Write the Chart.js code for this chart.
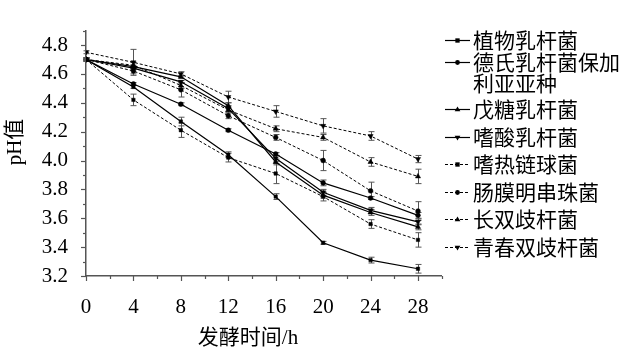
<!DOCTYPE html>
<html><head><meta charset="utf-8">
<script src="https://cdn.jsdelivr.net/npm/chart.js@4.4.1/dist/chart.umd.min.js"></script>
<style>html,body{margin:0;padding:0;background:#fff}#wrap{width:626px;height:355px;position:relative}</style>
</head><body><div id="wrap"><canvas id="c" width="626" height="355"></canvas></div>
<script>
// ---- data ----
const hours = [0, 4, 8, 12, 16, 20, 24, 28];
const xTickLabels = ['0', '4', '8', '12', '16', '20', '24', '28'];
const yTickLabels = ['3.2', '3.4', '3.6', '3.8', '4.0', '4.2', '4.4', '4.6', '4.8'];
const seriesNames = ['植物乳杆菌', '德氏乳杆菌保加利亚亚种', '戊糖乳杆菌', '嗜酸乳杆菌', '嗜热链球菌', '肠膜明串珠菌', '长双歧杆菌', '青春双歧杆菌'];
const legendLines = [['植物乳杆菌'], ['德氏乳杆菌保加', '利亚亚种'], ['戊糖乳杆菌'], ['嗜酸乳杆菌'], ['嗜热链球菌'], ['肠膜明串珠菌'], ['长双歧杆菌'], ['青春双歧杆菌']];
const plantarum      = [4.70, 4.51, 4.27, 4.04, 3.75, 3.43, 3.31, 3.25];
const plantarumErr   = [0.01, 0.01, 0.03, 0.02, 0.02, 0.01, 0.02, 0.03];
const bulgaricus     = [4.70, 4.53, 4.39, 4.21, 4.045, 3.845, 3.74, 3.62];
const bulgaricusErr  = [0.01, 0.01, 0.01, 0.01, 0.01, 0.02, 0.01, 0.02];
const pentosus       = [4.70, 4.65, 4.58, 4.38, 3.99, 3.76, 3.64, 3.54];
const pentosusErr    = [0.01, 0.01, 0.01, 0.02, 0.02, 0.02, 0.02, 0.02];
const acidophilus    = [4.70, 4.64, 4.545, 4.36, 4.015, 3.78, 3.655, 3.575];
const acidophilusErr = [0.01, 0.01, 0.01, 0.02, 0.02, 0.02, 0.02, 0.02];
const thermophilus   = [4.70, 4.42, 4.21, 4.02, 3.91, 3.75, 3.56, 3.45];
const thermophilusErr= [0.01, 0.04, 0.05, 0.03, 0.07, 0.03, 0.03, 0.05];
const leuconostoc    = [4.70, 4.62, 4.49, 4.31, 4.16, 4.00, 3.79, 3.65];
const leuconostocErr = [0.01, 0.02, 0.05, 0.02, 0.02, 0.07, 0.06, 0.065];
const longum         = [4.70, 4.66, 4.52, 4.35, 4.22, 4.16, 3.99, 3.89];
const longumErr      = [0.01, 0.02, 0.02, 0.02, 0.02, 0.02, 0.03, 0.05];
const adolescentis   = [4.75, 4.68, 4.60, 4.44, 4.34, 4.24, 4.17, 4.01];
const adolescentisErr= [0.01, 0.09, 0.015, 0.04, 0.04, 0.05, 0.03, 0.025];

const seriesValues = [plantarum, bulgaricus, pentosus, acidophilus, thermophilus, leuconostoc, longum, adolescentis];
const seriesErrors = [plantarumErr, bulgaricusErr, pentosusErr, acidophilusErr, thermophilusErr, leuconostocErr, longumErr, adolescentisErr];
const seriesMarkers = ['rect', 'circle', 'triangle', 'triangle', 'rect', 'circle', 'triangle', 'triangle'];
const seriesRotation = [0, 0, 0, 180, 0, 0, 0, 180];
const seriesDashed = [false, false, false, false, true, true, true, true];

const SERIF = '"Liberation Serif", "Times New Roman", "Noto Sans CJK SC", serif';
const CJK = '"Noto Sans CJK SC", sans-serif';

const datasets = seriesNames.map((name, i) => ({
  label: name,
  data: hours.map((h, j) => ({x: h, y: seriesValues[i][j]})),
  errors: seriesErrors[i],
  borderColor: '#000',
  backgroundColor: '#000',
  borderWidth: seriesDashed[i] ? 1 : 1.2,
  borderDash: seriesDashed[i] ? [3, 2] : [],
  pointStyle: seriesMarkers[i],
  rotation: seriesRotation[i],
  pointRadius: seriesMarkers[i] === 'triangle' ? 3 : 2.4,
  pointBorderWidth: 0.5,
  pointBackgroundColor: '#000',
  pointBorderColor: '#000',
  fill: false,
  tension: 0
}));

function drawMarker(ctx, style, rot, x, y, r) {
  ctx.save();
  ctx.translate(x, y);
  ctx.rotate(rot * Math.PI / 180);
  ctx.fillStyle = '#000';
  ctx.beginPath();
  if (style === 'rect') {
    ctx.rect(-r * 0.9, -r * 0.9, r * 1.8, r * 1.8);
  } else if (style === 'circle') {
    ctx.arc(0, 0, r, 0, Math.PI * 2);
  } else {
    ctx.moveTo(0, -r);
    ctx.lineTo(r * 0.95, r * 0.6);
    ctx.lineTo(-r * 0.95, r * 0.6);
    ctx.closePath();
  }
  ctx.fill();
  ctx.restore();
}

const decor = {
  id: 'decor',
  beforeDatasetsDraw(chart) {
    const ctx = chart.ctx, xs = chart.scales.x, ys = chart.scales.y;
    ctx.save();
    ctx.strokeStyle = '#555';
    ctx.lineWidth = 1;
    chart.data.datasets.forEach(ds => {
      ds.data.forEach((p, j) => {
        const e = ds.errors[j];
        const px = Math.round(xs.getPixelForValue(p.x)) + 0.5;
        const y1 = ys.getPixelForValue(p.y + e), y2 = ys.getPixelForValue(p.y - e);
        ctx.beginPath();
        ctx.moveTo(px, y1); ctx.lineTo(px, y2);
        ctx.moveTo(px - 3, y1); ctx.lineTo(px + 3, y1);
        ctx.moveTo(px - 3, y2); ctx.lineTo(px + 3, y2);
        ctx.stroke();
      });
    });
    ctx.restore();
  },
  afterDraw(chart) {
    const ctx = chart.ctx, xs = chart.scales.x, ys = chart.scales.y;
    const a = chart.chartArea;
    ctx.save();
    ctx.strokeStyle = '#555';
    ctx.lineWidth = 1.2;
    // y ticks
    for (let k = 32; k <= 49; k++) {
      const py = Math.round(ys.getPixelForValue(k / 10)) + 0.5;
      const len = (k % 2 === 0) ? 5 : 3;
      ctx.beginPath(); ctx.moveTo(a.left - len, py); ctx.lineTo(a.left, py); ctx.stroke();
    }
    // x ticks
    for (let k = 0; k <= 30; k += 2) {
      const px = Math.round(xs.getPixelForValue(k)) + 0.5;
      const len = (k % 4 === 0) ? 5 : 3;
      ctx.beginPath(); ctx.moveTo(px, a.bottom); ctx.lineTo(px, a.bottom + len); ctx.stroke();
    }
    // axis titles
    ctx.fillStyle = '#000';
    ctx.font = '21px ' + SERIF;
    ctx.textAlign = 'center';
    ctx.textBaseline = 'middle';
    ctx.fillText('发酵时间/h', 248, 338);
    ctx.save();
    ctx.translate(15, 142);
    ctx.rotate(-Math.PI / 2);
    ctx.fillText('pH值', 0, 0);
    ctx.restore();
    // legend
    const rows = [40, 62, 109, 137, 164, 192, 219, 247];
    ctx.font = '21px ' + CJK;
    ctx.textAlign = 'left';
    chart.data.datasets.forEach((ds, i) => {
      const y = rows[i];
      ctx.save();
      ctx.strokeStyle = '#000';
      ctx.lineWidth = ds.borderWidth;
      ctx.setLineDash(ds.borderDash);
      ctx.beginPath(); ctx.moveTo(445, y + 0.5); ctx.lineTo(470, y + 0.5); ctx.stroke();
      ctx.restore();
      drawMarker(ctx, ds.pointStyle, ds.rotation, 457.5, y + 0.5, ds.pointStyle === 'triangle' ? 3 : 2.4);
      legendLines[i].forEach((t, k) => ctx.fillText(t, 473, y + k * 21));
    });
    ctx.restore();
  }
};

new Chart(document.getElementById('c'), {
  type: 'line',
  data: {datasets},
  plugins: [decor],
  options: {
    responsive: false,
    animation: false,
    devicePixelRatio: 1,
    layout: {padding: {left: 0, top: 0, right: 184.3, bottom: 0}},
    plugins: {legend: {display: false}, tooltip: {enabled: false}},
    scales: {
      x: {
        type: 'linear', min: 0, max: 30,
        afterFit: s => { s.height = 79; },
        grid: {display: false, drawTicks: false},
        border: {display: true, color: '#555', width: 1.5},
        ticks: {
          stepSize: 2, autoSkip: false, maxRotation: 0, padding: 19, color: '#000',
          font: {family: SERIF, size: 21},
          callback: v => { const i = hours.indexOf(v); return i >= 0 ? xTickLabels[i] : ''; }
        }
      },
      y: {
        type: 'linear', min: 3.2, max: 4.9,
        afterFit: s => { s.width = 86; },
        grid: {display: false, drawTicks: false},
        border: {display: true, color: '#555', width: 1.5},
        ticks: {
          stepSize: 0.1, autoSkip: false, padding: 18, color: '#000',
          font: {family: SERIF, size: 21},
          callback: v => { const k = Math.round(v * 10); return (k % 2 === 0 && k <= 48) ? yTickLabels[(k - 32) / 2] : ''; }
        }
      }
    }
  }
});
</script></body></html>
